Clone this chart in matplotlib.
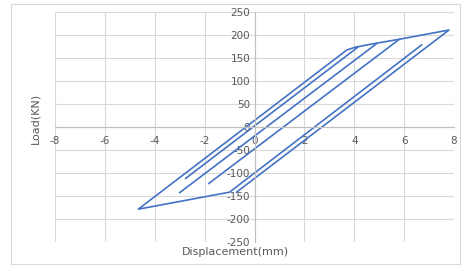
import matplotlib.pyplot as plt
from matplotlib.patches import Rectangle

plt.rcParams['axes.unicode_minus'] = False

# hysteresis branches (mm, kN)
reload1_x = [-2.76, 4.14]
reload1_y = [-111, 174]
reload2_x = [-3.0, 4.9]
reload2_y = [-142, 182]
reload3_x = [-1.83, 5.8]
reload3_y = [-122, 191]
main_x = [6.70, -1.0, -4.66, 3.70, 4.03, 4.70, 5.77, 7.80, -0.72]
main_y = [179, -141, -178, 168, 174, 181, 191, 211.5, -141]

xticks = [-8, -6, -4, -2, 0, 2, 4, 6, 8]
yticks = [-250, -200, -150, -100, -50, 0, 50, 100, 150, 200, 250]

blue = '#4472C4'
txt = '#595959'

fig = plt.figure(figsize=(4.62, 2.65), dpi=100)
fig.patches.append(Rectangle((11/462, 0.004), 449/462, 0.98, transform=fig.transFigure,
                             fill=False, edgecolor='#d9d9d9', lw=0.8))
ax = fig.add_axes([55/462, 1 - 242.3/265, 399/462, 230/265])

for xs, ys in [(reload1_x, reload1_y), (reload2_x, reload2_y),
               (reload3_x, reload3_y), (main_x, main_y)]:
    ax.plot(xs, ys, color=blue, lw=1.2, solid_joinstyle='round')

ax.set_xlim(-8, 8)
ax.set_ylim(-250, 250)
ax.set_xticks(xticks)
ax.set_yticks(yticks)
ax.grid(True, color='#d9d9d9', lw=0.8)
ax.set_axisbelow(True)

ax.spines['left'].set_position('zero')
ax.spines['bottom'].set_position('zero')
ax.spines['top'].set_visible(False)
ax.spines['right'].set_visible(False)
for s in ['left', 'bottom']:
    ax.spines[s].set_color('#bfbfbf')
    ax.spines[s].set_linewidth(0.8)
ax.tick_params(length=0, labelsize=7.5, labelcolor=txt, pad=3)
ax.tick_params(axis='x', pad=6)

fig.text(35/462, 1 - 118/265, 'Load(KN)', rotation=90, ha='center', va='center',
         fontsize=8, color=txt)
fig.text(235/462, 1 - 252/265, 'Displacement(mm)', ha='center', va='center',
         fontsize=8, color=txt)

fig.savefig('out.png', dpi=100)
